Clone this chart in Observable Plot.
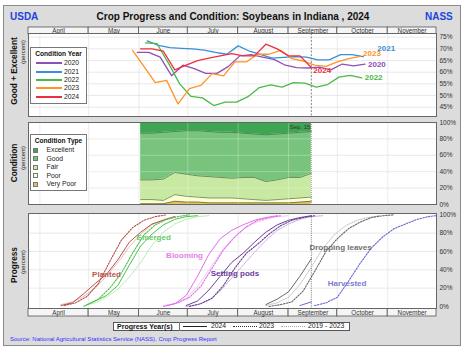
<!DOCTYPE html>
<html><head><meta charset="utf-8">
<script src="https://cdn.jsdelivr.net/npm/d3@7"></script>
<script src="https://cdn.jsdelivr.net/npm/@observablehq/plot@0.6"></script>
<style>
body{margin:0;background:#fff;font-family:"Liberation Sans",Arial,sans-serif;}
#wrap{position:relative;width:474px;height:351px;overflow:hidden;}
#bg{position:absolute;left:3px;top:5px;width:458px;height:341px;background:#dcdcdc;border:1px solid #8a8a8a;box-sizing:border-box;}
.p{position:absolute;left:0;}
.c{position:absolute;transform:translate(-50%,-50%);white-space:nowrap;line-height:1;}
.l{position:absolute;transform:translate(0,-50%);white-space:nowrap;line-height:1;}
.rot{position:absolute;transform:translate(-50%,-50%) rotate(-90deg);white-space:nowrap;line-height:1;}
.box{position:absolute;background:#fff;border:1px solid #777;box-sizing:border-box;}
svg{overflow:visible;}
</style></head>
<body><div id="wrap"><div id="bg"></div></div>
<script>
// ---------- data ----------
const monthNames = ["April","May","June","July","August","September","October","November"];
const monthStarts = ["04-01","05-01","06-01","07-01","08-01","09-01","10-01","11-01"];
const conditionYears = ["2020","2021","2022","2023","2024"];
const yearColors = ["#8e4fb8","#3a8fd6","#4cb848","#ff9326","#ee2e3c"];
const geStart = ["05-31","06-06","06-05","05-28","06-02"];
const ge2020 = [68.5,68.5,66.5,58.5,63,61.5,59.5,59.5,62.5,67,67.5,66.5,65.5,63,62,61.8,62.2,61,63.5,62.7,63.5];
const ge2021 = [73.4,71.5,70.5,70.2,70,69.5,68.5,67.7,71.3,69,67.5,66,66.4,66.7,66.5,65.3,65.3,67.5,67.5,66.7];
const ge2022 = [72.6,72.3,64,55,49.6,49,45.7,47.2,47.2,49.5,53.4,54.6,53.6,55.5,55.3,53.6,54.7,57.9,58.6,57.6];
const ge2023 = [69.4,62.5,55.5,56.5,46.4,53,54.3,59.4,58.4,64.4,64.4,67.7,67.7,69.4,65.8,64.8,63,62.5,64.4,65.8,66.8];
const ge2024 = [70,70,69,61,63,65,66,67,68,67,67,72,70,67,67,62];

const conditionTypes = ["Excellent","Good","Fair","Poor","Very Poor"];
const conditionColors = ["#3ea552","#78c47c","#c8e9a2","#fffbd2","#e6bf5a"];
const cond2024Start = "06-02";
const excellent = [13,13,12,11,10,10,11,12,12,13,14,15,14,13,12,11];
const good      = [57,57,57,50,53,55,55,55,56,54,53,57,56,54,55,51];
const fair      = [24,24,26,27,27,26,26,25,24,26,27,23,24,26,25,29];
const poor      = [5,5,4,8,7,6,6,6,6,5,4,3,4,5,5,5];
const veryPoor  = [1,1,1,4,3,3,2,2,2,2,2,2,2,2,3,4];
const lastWeek = "09-15";

const stages = ["Planted","Emerged","Blooming","Setting pods","Dropping leaves","Harvested"];
const stageColors = ["#b5524b","#4cc04c","#e070e8","#6a3d9a","#686868","#6a6ad0"];
const stageLight  = ["#e3aaa5","#a8e4a8","#f2b4f2","#b9a3d6","#bdbdbd","#b0b0ea"];
const stageLabelColors = ["#b9564f","#66cc66","#e67ee6","#6a3d9a","#707070","#7a7ad6"];
const stageLabelAt = [["05-12",35],["06-10",75],["06-29",55.6],["07-30",35.7],["10-03",64.7],["10-07",24.8]];
const p2024Start = ["04-14","04-28","06-16","06-30","08-18","09-08"];
const p2024 = [
  [1,4,14,25,35,51,70,81,90,94,98],
  [0,6,12,23,45,66,79,89,95,98,99],
  [0,3,12,33,57,74,83,89,94,97,99],
  [1,6,18,33,48,58,70,81,89,94,97,99],
  [2,8,16,33,52],
  [1,5]
];
const p2023Start = ["04-16","04-30","06-18","07-02","08-20","09-17"];
const p2023 = [
  [1,4,11,25,49,72,86,94,98,100],
  [2,8,20,36,58,78,89,95,98,100],
  [1,4,10,22,42,62,76,87,94,97,99],
  [0,3,9,23,42,58,68,79,88,94,97,99],
  [0,2,5,17,38,60,74,85,92,97,99,100],
  [1,4,10,28,47,64,76,85,90,95,98,99.5]
];
const pAvgStart = ["04-14","04-28","06-16","06-30","08-18",null];
const pAvg = [
  [2,5,11,20,33,48,65,79,89,95,98],
  [1,4,10,19,32,48,67,81,90,95,98,99],
  [1,3,9,22,40,58,73,84,91,95,98,99],
  [0,2,7,17,31,45,59,72,83,90,95,98,99],
  [1,4,10,24,43,63,78,88,94,97,99],
  null
];
const geTicks = [45,50,55,60,65,70,75];
const pctTicks = [0,20,40,60,80,100];

// ---------- helpers ----------
const DAY = 864e5;
const parse = s => { const [m,d] = s.split("-").map(Number); return new Date(Date.UTC(2024, m-1, d)); };
const weekly = (start, values) => values.map((v,i) => ({date: new Date(parse(start).getTime() + i*7*DAY), value: v}));
const xDomain = [parse("03-25"), parse("12-01")];
const mStarts = monthStarts.map(parse);
const sep15 = parse(lastWeek);
const FONT = "Liberation Sans, Arial, sans-serif";
const base = (h) => ({width:474, height:h, marginLeft:28, marginRight:38, marginTop:0, marginBottom:0,
  style:{background:"none", fontFamily:FONT, fontSize:"6.5px", color:"#333", overflow:"visible"},
  x:{type:"utc", domain:xDomain, axis:null}});
const wrap = document.getElementById("wrap");
function place(svg, top){ svg.classList.add("p"); svg.style.top = top+"px"; svg.style.position="absolute"; svg.style.left="0px"; wrap.appendChild(svg); }
function div(cls, x, y, text, css){ const e=document.createElement("div"); e.className=cls; e.style.left=x+"px"; e.style.top=y+"px"; e.textContent=text; Object.assign(e.style, css||{}); wrap.appendChild(e); return e; }

// month bands
const bands = monthNames.map((n,i) => ({name:n, x1: i===0 ? xDomain[0] : mStarts[i], x2: i<7 ? mStarts[i+1] : xDomain[1]}));
bands.forEach(b => b.mid = new Date((b.x1.getTime()+b.x2.getTime())/2));
function bandPlot(h){
  return Plot.plot({...base(h), marks:[
    Plot.rect(bands, {x1:"x1", x2:"x2", fill:"#f5f5f5", stroke:"#555", strokeWidth:0.8}),
    Plot.text(bands, {x:"mid", text:"name", fontSize:6.3, fill:"#333"})
  ]});
}
place(bandPlot(7), 27);
place(bandPlot(8), 308);

// ---------- panel 1: good + excellent ----------
const geSeries = [ge2020, ge2021, ge2022, ge2023, ge2024].map((vals,i) => ({year:conditionYears[i], color:yearColors[i], pts:weekly(geStart[i], vals)}));
const labelOffsets = {"2020":[3,0], "2021":[14,-8], "2022":[3,0], "2023":[3,-3], "2024":[2,3]};
const yAxis = (domain, ticks) => ({domain, axis:"right", ticks, tickFormat:d=>d+"%", tickSize:0, tickPadding:3, label:null});
const p1 = Plot.plot({...base(83),
  y:yAxis([41.0,76.6], geTicks),
  marks:[
    Plot.frame({fill:"white"}),
    Plot.ruleY(geTicks, {stroke:"#e2e2e2", strokeWidth:0.8}),
    Plot.ruleX(mStarts, {stroke:"#e6e6e6", strokeWidth:0.8}),
    Plot.ruleX([sep15], {stroke:"#777", strokeDasharray:"2,1.5", strokeWidth:0.9}),
    ...geSeries.map(s => Plot.line(s.pts, {x:"date", y:"value", stroke:s.color, strokeWidth:1.3})),
    ...geSeries.map(s => Plot.text([s.pts[s.pts.length-1]], {x:"date", y:"value", text:()=>s.year, fill:s.color,
        fontWeight:"bold", fontSize:8, textAnchor:"start", dx:labelOffsets[s.year][0], dy:labelOffsets[s.year][1]})),
    Plot.frame({stroke:"#666"})
  ]});
place(p1, 33);

// ---------- panel 2: condition ----------
const condVals = [excellent, good, fair, poor, veryPoor];
const condData = [];
for (let t = 4; t >= 0; t--) weekly(cond2024Start, condVals[t]).forEach(p => condData.push({date:p.date, value:p.value, type:conditionTypes[t]}));
const p2 = Plot.plot({...base(82),
  y:yAxis([0,100], pctTicks),
  color:{domain:conditionTypes, range:conditionColors},
  marks:[
    Plot.frame({fill:"white"}),
    Plot.ruleY([20,40,60,80], {stroke:"#e2e2e2", strokeWidth:0.8}),
    Plot.ruleX(mStarts, {stroke:"#e6e6e6", strokeWidth:0.8}),
    Plot.areaY(condData, {x:"date", y:"value", z:"type", fill:"type"}),
    Plot.lineY(condData, Plot.stackY2({x:"date", y:"value", z:"type", stroke:"#3d6b3a", strokeWidth:0.7})),
    Plot.ruleY([20,40,60,80], {x1:xDomain[0], x2:sep15, stroke:"white", strokeOpacity:0.35, strokeWidth:0.8}),
    Plot.ruleX(mStarts.filter(d => d < sep15 && d > parse("06-02")), {stroke:"white", strokeOpacity:0.35, strokeWidth:0.8}),
    Plot.ruleX([sep15], {stroke:"#888", strokeDasharray:"1,1", strokeWidth:0.8}),
    Plot.text([{date:sep15, value:100}], {x:"date", y:"value", text:()=>"Sep. 15", textAnchor:"end", dx:-1, dy:5, fontSize:6, fill:"#333"}),
    Plot.frame({stroke:"#666"})
  ]});
place(p2, 122);

// ---------- panel 3: progress ----------
const p3marks = [
  Plot.frame({fill:"white"}),
  Plot.ruleY([20,40,60,80], {stroke:"#e2e2e2", strokeWidth:0.8}),
  Plot.ruleX(mStarts, {stroke:"#e6e6e6", strokeWidth:0.8}),
  Plot.ruleX([sep15], {stroke:"#666", strokeDasharray:"1,1.2", strokeWidth:0.9})
];
stages.forEach((s,i) => {
  if (pAvg[i]) p3marks.push(Plot.line(weekly(pAvgStart[i], pAvg[i]), {x:"date", y:"value", stroke:stageLight[i], strokeWidth:0.9, strokeDasharray:"1,1", clip:true}));
  p3marks.push(Plot.line(weekly(p2023Start[i], p2023[i]), {x:"date", y:"value", stroke:stageColors[i], strokeWidth:1.1, strokeDasharray:"1.5,1.4", clip:true}));
  p3marks.push(Plot.line(weekly(p2024Start[i], p2024[i]), {x:"date", y:"value", stroke:stageColors[i], strokeWidth:1, clip:true}));
});
stages.forEach((s,i) => {
  p3marks.push(Plot.text([{date:parse(stageLabelAt[i][0]), value:stageLabelAt[i][1]}], {x:"date", y:"value", text:()=>s, fill:stageLabelColors[i], fontWeight:"bold", fontSize:8}));
});
p3marks.push(Plot.frame({stroke:"#666"}));
const p3 = Plot.plot({...base(95),
  y:yAxis([-2.2,101.4], pctTicks),
  marks:p3marks});
place(p3, 213);

// ---------- texts ----------
div("c", 233, 16.5, "Crop Progress and Condition: Soybeans in Indiana , 2024", {fontSize:"10px", fontWeight:"bold", color:"#111"});
div("l", 10, 16.5, "USDA", {fontSize:"10px", fontWeight:"bold", color:"#2244dd"});
div("l", 425, 16.5, "NASS", {fontSize:"10px", fontWeight:"bold", color:"#2244dd"});
div("rot", 13.5, 71, "Good + Excellent", {fontSize:"8.3px", fontWeight:"bold", color:"#111"});
div("rot", 22.5, 52, "(percent)", {fontSize:"6px", color:"#222"});
div("rot", 13.5, 163, "Condition", {fontSize:"8.3px", fontWeight:"bold", color:"#111"});
div("rot", 22.5, 158, "(percent)", {fontSize:"6px", color:"#222"});
div("rot", 13.5, 265, "Progress", {fontSize:"8.3px", fontWeight:"bold", color:"#111"});
div("rot", 22.5, 262, "(percent)", {fontSize:"6px", color:"#222"});
div("l", 10, 338.5, "Source: National Agricultural Statistics Service (NASS), Crop Progress Report", {fontSize:"6px", color:"#3333ff"});

// legend 1
const lg1 = document.createElement("div"); lg1.className="box"; Object.assign(lg1.style,{left:"30px",top:"47px",width:"57px",height:"57px"}); wrap.appendChild(lg1);
div("c", 58.5, 54, "Condition Year", {fontSize:"6.6px", fontWeight:"bold", color:"#111"});
conditionYears.forEach((y,i) => {
  const cy = 63.3 + i*8.35;
  const ln = document.createElement("div"); Object.assign(ln.style,{position:"absolute",left:"36px",top:(cy-1)+"px",width:"26px",height:"2px",background:yearColors[i]}); wrap.appendChild(ln);
  div("l", 64, cy, y, {fontSize:"6.8px", color:"#222"});
});
// legend 2
const lg2 = document.createElement("div"); lg2.className="box"; Object.assign(lg2.style,{left:"30px",top:"134px",width:"57px",height:"57px"}); wrap.appendChild(lg2);
div("c", 58.5, 141, "Condition Type", {fontSize:"6.6px", fontWeight:"bold", color:"#111"});
conditionTypes.forEach((t,i) => {
  const cy = 150.3 + i*8.5;
  const sq = document.createElement("div"); Object.assign(sq.style,{position:"absolute",left:"33px",top:(cy-2.5)+"px",width:"5px",height:"5px",background:conditionColors[i],border:"0.5px solid #777",boxSizing:"border-box"}); wrap.appendChild(sq);
  div("l", 46.5, cy, t, {fontSize:"6.8px", color:"#222"});
});
// bottom legend
const lg3 = document.createElement("div"); lg3.className="box"; Object.assign(lg3.style,{left:"113px",top:"321.5px",width:"237px",height:"9.5px",border:"1px solid #555"}); wrap.appendChild(lg3);
div("l", 117, 326.3, "Progress Year(s)", {fontSize:"7px", fontWeight:"bold", color:"#111"});
const sepd = document.createElement("div"); Object.assign(sepd.style,{position:"absolute",left:"178.5px",top:"322px",width:"0.8px",height:"8.5px",background:"#777"}); wrap.appendChild(sepd);
const sampleStyles = [["183px","solid #222","1.4px"],["233px","dotted #333","1.3px"],["281px","dotted #aaa","1px"]];
sampleStyles.forEach(([l,b,w]) => { const s=document.createElement("div"); Object.assign(s.style,{position:"absolute",left:l,top:"325.6px",width:"24px",height:"0",borderTop:w+" "+b}); wrap.appendChild(s); });
div("l", 211, 326.3, "2024", {fontSize:"6.8px", color:"#222"});
div("l", 259, 326.3, "2023", {fontSize:"6.8px", color:"#222"});
div("l", 308, 326.3, "2019 - 2023", {fontSize:"6.8px", color:"#222"});
</script>
</body></html>
